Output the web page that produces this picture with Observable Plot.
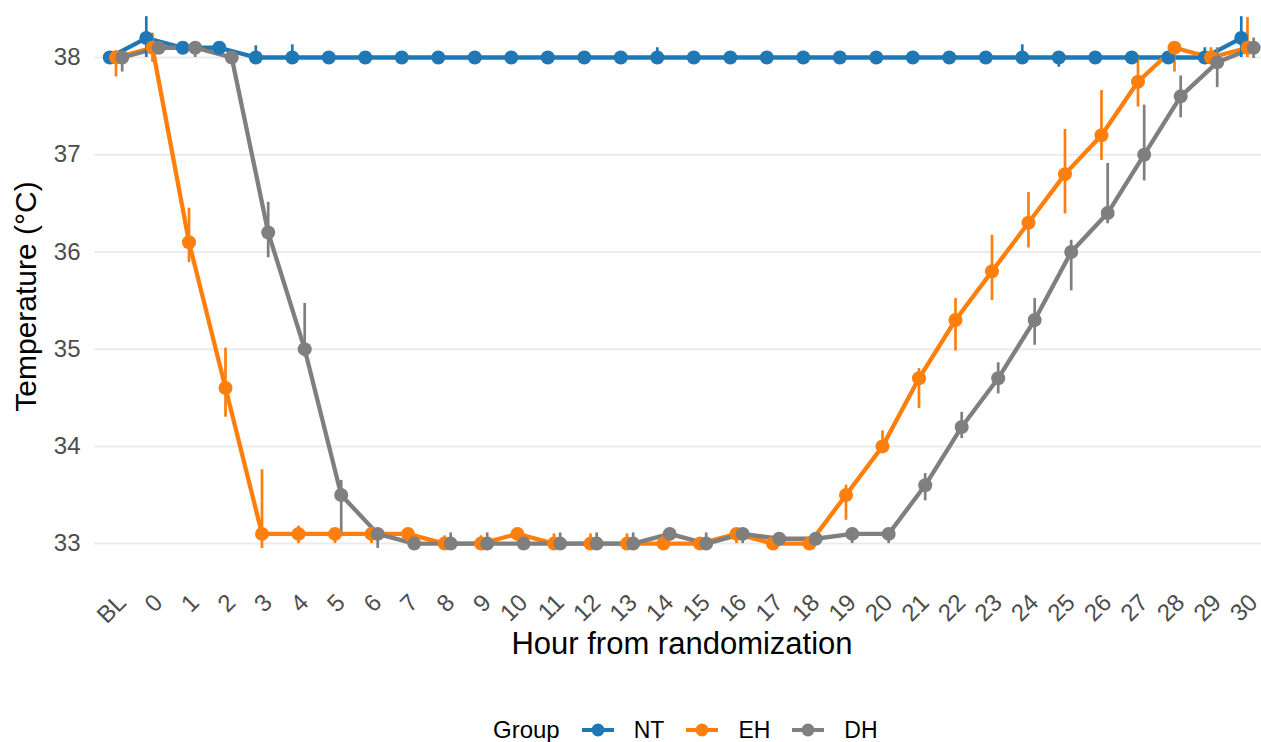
<!DOCTYPE html>
<html><head><meta charset="utf-8">
<script src="https://cdn.jsdelivr.net/npm/d3@7"></script>
<script src="https://cdn.jsdelivr.net/npm/@observablehq/plot@0.6"></script>
<style>
body{margin:0;background:#fff;font-family:"Liberation Sans",Arial,sans-serif;}
#wrap{position:relative;width:1261px;height:742px;overflow:hidden;background:#fff;}
#legend{position:absolute;left:493px;top:716px;display:flex;align-items:center;color:#000;white-space:nowrap;}
#legend .title{font-size:24px;margin-right:22px;}
#legend .lab{font-size:23px;margin-right:22px;}
#legend svg{margin-right:20px;display:block;}
#chart svg g[aria-label$="tick label"], #chart svg g[aria-label$="tick label"] text{font-size:24px !important;}
</style></head><body>
<div id="wrap"><div id="chart"></div><div id="legend"></div></div>
<script>
const hours = ["BL","0","1","2","3","4","5","6","7","8","9","10","11","12","13","14","15","16","17","18","19","20","21","22","23","24","25","26","27","28","29","30"];
const groups = ["NT","EH","DH"];
const groupColors = ["#1f77b4","#ff7f0e","#7f7f7f"];
const groupDodge = [-0.17, 0, 0.17];
const yTicks = [33,34,35,36,37,38];

const ntMean = [38.0,38.2,38.1,38.1,38.0,38.0,38.0,38.0,38.0,38.0,38.0,38.0,38.0,38.0,38.0,38.0,38.0,38.0,38.0,38.0,38.0,38.0,38.0,38.0,38.0,38.0,38.0,38.0,38.0,38.0,38.0,38.2];
const ntLo   = [37.97,38.0,38.05,38.05,37.95,37.95,37.98,37.98,37.98,37.98,37.98,37.98,37.98,37.98,37.98,37.96,37.98,37.98,37.98,37.98,37.98,37.98,37.98,37.98,37.98,37.96,37.9,37.98,37.98,37.98,37.97,38.0];
const ntHi   = [38.03,38.42,38.15,38.15,38.12,38.13,38.02,38.02,38.02,38.02,38.02,38.02,38.02,38.02,38.02,38.1,38.02,38.02,38.02,38.02,38.02,38.02,38.02,38.02,38.02,38.13,38.02,38.02,38.02,38.02,38.1,38.42];

const ehMean = [38.0,38.1,36.1,34.6,33.1,33.1,33.1,33.1,33.1,33.0,33.0,33.1,33.0,33.0,33.0,33.0,33.0,33.1,33.0,33.0,33.5,34.0,34.7,35.3,35.8,36.3,36.8,37.2,37.75,38.1,38.0,38.1];
const ehLo   = [37.8,37.95,35.89,34.3,32.95,33.0,33.0,33.0,33.0,32.97,32.97,33.05,32.97,32.97,32.97,32.97,32.97,33.0,32.97,32.97,33.24,33.95,34.39,34.98,35.5,36.04,36.39,36.94,37.49,37.85,37.95,38.0];
const ehHi   = [38.07,38.25,36.45,35.01,33.76,33.18,33.15,33.15,33.15,33.08,33.08,33.15,33.1,33.1,33.1,33.1,33.06,33.15,33.06,33.06,33.6,34.16,34.8,35.52,36.17,36.61,37.26,37.66,38.0,38.12,38.1,38.41];

const dhMean = [38.0,38.1,38.1,38.0,36.2,35.0,33.5,33.1,33.0,33.0,33.0,33.0,33.0,33.0,33.0,33.1,33.0,33.1,33.05,33.05,33.1,33.1,33.6,34.2,34.7,35.3,36.0,36.4,37.0,37.6,37.95,38.1];
const dhLo   = [37.85,38.05,38.0,37.97,35.94,34.92,33.1,32.95,32.97,32.97,32.97,32.97,32.97,32.97,32.97,33.05,32.97,33.0,33.0,33.0,33.0,33.0,33.44,34.08,34.54,35.04,35.6,36.29,36.73,37.38,37.69,37.99];
const dhHi   = [38.07,38.15,38.12,38.03,36.51,35.47,33.65,33.15,33.05,33.11,33.11,33.05,33.11,33.11,33.11,33.15,33.11,33.15,33.1,33.1,33.15,33.15,33.72,34.35,34.86,35.52,36.12,36.91,37.51,37.81,38.1,38.2];

const series = [[ntMean,ntLo,ntHi],[ehMean,ehLo,ehHi],[dhMean,dhLo,dhHi]];
const rows = [];
groups.forEach((g, gi) => {
  const [m, lo, hi] = series[gi];
  hours.forEach((h, i) => {
    rows.push({group: g, idx: i, xp: i + groupDodge[gi], mean: m[i], lo: lo[i], hi: hi[i]});
  });
});

const chart = Plot.plot({
  width: 1261, height: 700,
  marginLeft: 94, marginRight: 0, marginTop: 0, marginBottom: 118,
  style: {fontFamily: '"Liberation Sans", Arial, sans-serif', fontSize: "24px", color: "#4d4d4d", background: "#fff", overflow: "visible"},
  x: {type: "linear", domain: [-0.589, 31.384], axis: null},
  y: {domain: [32.6, 38.586], axis: null},
  color: {domain: groups, range: groupColors},
  marks: [
    Plot.gridY(yTicks, {stroke: "#ebebeb", strokeOpacity: 1, strokeWidth: 2}),
    Plot.axisY(yTicks, {tickSize: 0, tickPadding: 14, tickFormat: d => String(d), fontSize: 24, label: null}),
    Plot.axisX(d3.range(hours.length), {tickSize: 0, tickPadding: 16, tickRotate: -45, tickFormat: i => hours[i], fontSize: 24, dx: 6, label: null}),
    Plot.line(rows, {x: "xp", y: "mean", z: "group", stroke: "group", strokeWidth: 4.3}),
    Plot.ruleX(rows, {x: "xp", y1: "lo", y2: "hi", stroke: "group", strokeWidth: 2.7}),
    Plot.dot(rows, {x: "xp", y: "mean", fill: "group", r: 7}),
    Plot.text(["Hour from randomization"], {text: d => d, frameAnchor: "bottom", dx: 4, dy: 71, fontSize: 31, fill: "#000"}),
    Plot.text(["Temperature (°C)"], {text: d => d, frameAnchor: "left", textAnchor: "middle", rotate: -90, dx: -68, dy: 5, fontSize: 30, fill: "#000"})
  ]
});
document.getElementById("chart").appendChild(chart);

const legend = document.getElementById("legend");
const t = document.createElement("span"); t.className = "title"; t.textContent = "Group"; legend.appendChild(t);
groups.forEach((g, gi) => {
  const ns = "http://www.w3.org/2000/svg";
  const s = document.createElementNS(ns, "svg");
  s.setAttribute("width", 32); s.setAttribute("height", 20);
  const l = document.createElementNS(ns, "line");
  l.setAttribute("x1", 0); l.setAttribute("x2", 32); l.setAttribute("y1", 10); l.setAttribute("y2", 10);
  l.setAttribute("stroke", groupColors[gi]); l.setAttribute("stroke-width", 4);
  const c = document.createElementNS(ns, "circle");
  c.setAttribute("cx", 16); c.setAttribute("cy", 10); c.setAttribute("r", 6.5); c.setAttribute("fill", groupColors[gi]);
  s.appendChild(l); s.appendChild(c); legend.appendChild(s);
  const lab = document.createElement("span"); lab.className = "lab"; lab.textContent = g; legend.appendChild(lab);
});
</script>
</body></html>
